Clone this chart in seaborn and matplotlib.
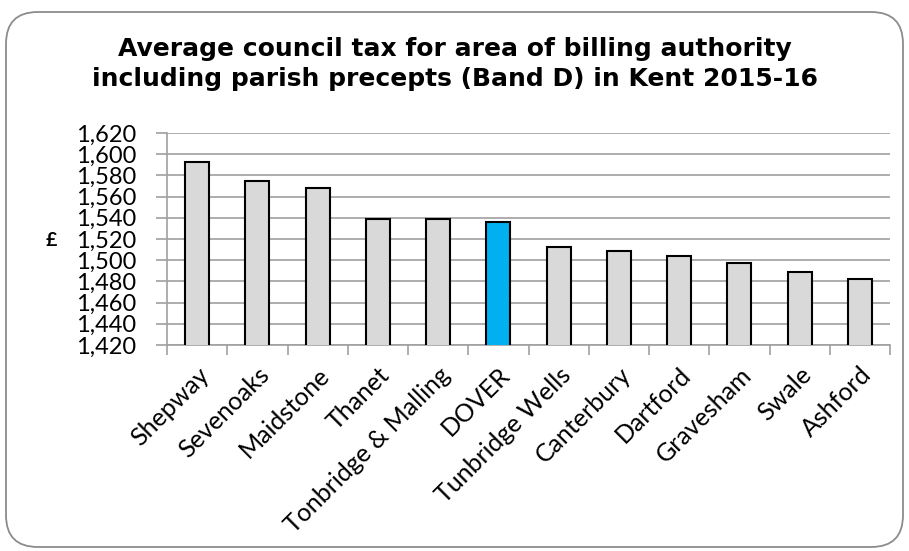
import matplotlib
matplotlib.use("Agg")
import matplotlib.pyplot as plt
import seaborn as sns
import pandas as pd
from matplotlib.patches import FancyBboxPatch

areas = ["Shepway", "Sevenoaks", "Maidstone", "Thanet", "Tonbridge & Malling", "DOVER",
         "Tunbridge Wells", "Canterbury", "Dartford", "Gravesham", "Swale", "Ashford"]
tax = [1593, 1575, 1568, 1539, 1539, 1536, 1512, 1509, 1504, 1497, 1489, 1482]
highlight = "DOVER"
yticks = list(range(1420, 1621, 20))

df = pd.DataFrame({"area": areas, "tax": tax})
colors = ["#00B0F0" if a == highlight else "#D9D9D9" for a in areas]

sns.set_style("white")
plt.rcParams['font.family'] = ['Liberation Sans', 'DejaVu Sans']
plt.rcParams['text.color'] = 'black'
plt.rcParams['xtick.labelcolor'] = 'black'
plt.rcParams['ytick.labelcolor'] = 'black'

fig = plt.figure(figsize=(9.09, 5.51), dpi=100)
ax = fig.add_axes([167/909, 1 - 345/551, (890-167)/909, (345-133)/551])

sns.barplot(data=df, x="area", y="tax", hue="area", palette=colors, legend=False,
            saturation=1, width=0.4, edgecolor="black", linewidth=1.5, ax=ax, zorder=3)

lab_font = ['Lato', 'DejaVu Sans']
ax.set_ylim(1420, 1620)
ax.set_yticks(yticks)
ax.set_yticklabels([f"{v:,}" for v in yticks], fontsize=17, family=lab_font)
ax.yaxis.grid(True, color="#A0A0A0", linewidth=1.2, zorder=0)
ax.set_axisbelow(True)
ax.set_xlim(-0.5, len(areas) - 0.5)

for s in ["top", "right"]:
    ax.spines[s].set_visible(False)
for s in ["left", "bottom"]:
    ax.spines[s].set_color("#A0A0A0")
    ax.spines[s].set_linewidth(1.2)

ax.tick_params(axis="y", direction="out", length=8, width=1.2, color="#A0A0A0", pad=14, left=True)
ax.set_xticks(range(len(areas)))
ax.set_xticklabels(areas, rotation=45, ha="right", rotation_mode="anchor",
                   fontsize=18, family=lab_font)
ax.tick_params(axis="x", which="major", length=0, pad=13)
ax.set_xticks([i - 0.5 for i in range(len(areas) + 1)], minor=True)
ax.tick_params(axis="x", which="minor", direction="out", length=7, width=1.2,
               color="#A0A0A0", bottom=True)

ax.set_xlabel("")
ax.set_ylabel("")
fig.text(51/909, 1 - 240/551, "£", ha="center", va="center", fontsize=14, fontweight="bold",
         family=lab_font, color="black")

fig.text(0.5, 1 - 64/551, "Average council tax for area of billing authority\nincluding parish precepts (Band D) in Kent 2015-16",
         ha="center", va="center", fontsize=18, fontweight="bold", linespacing=1.28,
         family=['DejaVu Sans'], color="black")

border = FancyBboxPatch((6/909, 4/551), 897/909, 535/551,
                        boxstyle="round,pad=0,rounding_size=0.035",
                        transform=fig.transFigure, facecolor="none",
                        edgecolor="#8C8C8C", linewidth=1.3, mutation_aspect=909/551)
fig.patches.append(border)

fig.savefig("out.png", dpi=100)
